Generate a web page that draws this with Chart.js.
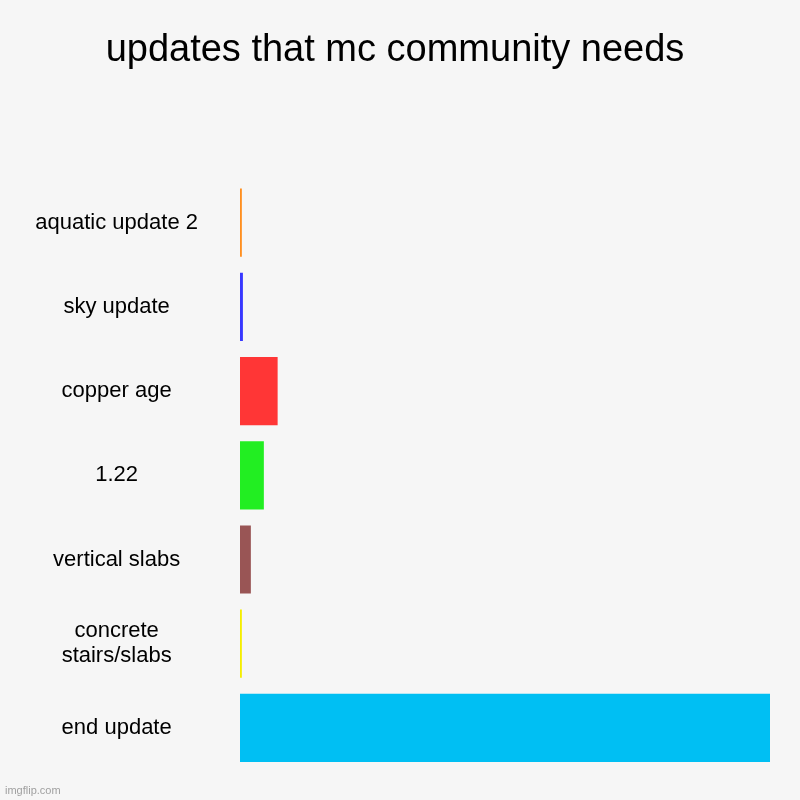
<!DOCTYPE html>
<html>
<head>
<meta charset="utf-8">
<script src="https://cdn.jsdelivr.net/npm/chart.js@4.4.1/dist/chart.umd.min.js"></script>
<style>
  html, body { margin: 0; padding: 0; background: #f6f6f6; }
  #wrap { position: relative; width: 800px; height: 800px; }
  #mark { position: absolute; left: 5px; bottom: 4px; font: 11px "Liberation Sans", Arial, sans-serif; color: #a0a0a0; }
</style>
</head>
<body>
<div id="wrap">
  <canvas id="chart" width="800" height="800"></canvas>
  <div id="mark">imgflip.com</div>
</div>
<script>
// chart values
const categories = [
    "aquatic update 2",
    "sky update",
    "copper age",
    "1.22",
    "vertical slabs",
    ["concrete", "stairs/slabs"],
    "end update",
];
const votes = [0.35, 0.55, 7.1, 4.5, 2.05, 0.35, 100];
const barColors = ["#ff8f1f", "#3838ff", "#ff3636", "#22ee22", "#995555", "#f5ee00", "#00bff3"];

Chart.defaults.font.family = '"Liberation Sans", Arial, sans-serif';

const ctx = document.getElementById("chart").getContext("2d");
new Chart(ctx, {
    type: "bar",
    data: {
        labels: categories,
        datasets: [
            {
                data: votes,
                backgroundColor: barColors,
                barPercentage: 0.9,
                categoryPercentage: 0.9,
            },
        ],
    },
    options: {
        indexAxis: "y",
        responsive: false,
        animation: false,
        layout: { padding: { left: 20, right: 30, top: 28, bottom: 30 } },
        plugins: {
            legend: { display: false },
            tooltip: { enabled: false },
            title: {
                display: true,
                text: "updates that mc community needs",
                color: "#000",
                font: { size: 38, weight: "normal" },
                padding: { top: 0, bottom: 107 },
            },
        },
        scales: {
            x: {
                display: false,
                min: 0,
                max: 100,
            },
            y: {
                // invisible tick marks only used to push the labels left
                grid: {
                    drawOnChartArea: false,
                    color: "rgba(0,0,0,0)",
                    tickLength: 38,
                },
                border: { display: false },
                afterFit: (scale) => { scale.width = 220; },
                ticks: {
                    crossAlign: "center",
                    color: "#000",
                    font: { size: 22, lineHeight: 1.15 },
                    padding: 4,
                },
            },
        },
    },
});
</script>
</body>
</html>
